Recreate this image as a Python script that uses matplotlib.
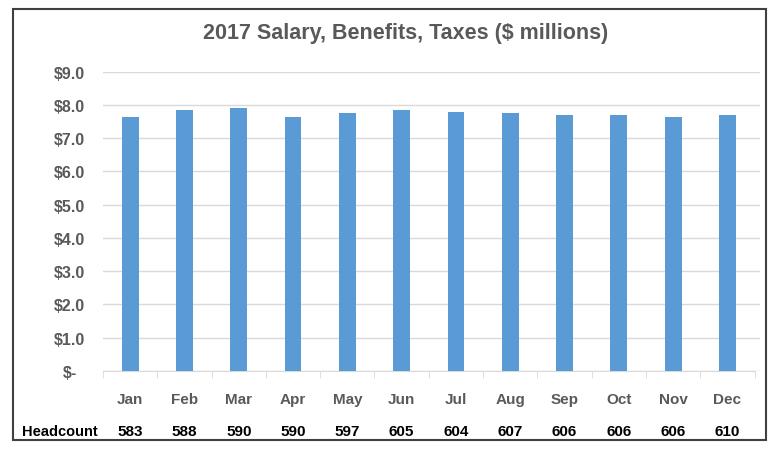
import matplotlib.pyplot as plt
import matplotlib.transforms as mtransforms
from matplotlib.patches import Rectangle
import numpy as np

months = ["Jan", "Feb", "Mar", "Apr", "May", "Jun",
          "Jul", "Aug", "Sep", "Oct", "Nov", "Dec"]
cost = [7.65, 7.86, 7.90, 7.65, 7.76, 7.86,
        7.79, 7.76, 7.71, 7.71, 7.65, 7.71]
headcount = [583, 588, 590, 590, 597, 605, 604, 607, 606, 606, 606, 610]
yticks = np.arange(0, 10, 1.0)

plt.rcParams['font.family'] = ['Liberation Sans', 'DejaVu Sans']

fig = plt.figure(figsize=(7.7, 4.52), dpi=100)
ax = fig.add_axes([103 / 770, 1 - 372 / 452, (760 - 103) / 770, (372 - 72.7) / 452])

x = np.arange(len(months))
ax.bar(x, cost, width=0.31, color="#5B9BD5", zorder=3)

ax.set_xlim(-0.46, 11.6)
ax.set_ylim(0, 9.0)
ax.set_yticks(yticks)
ax.set_yticklabels(["$-"] + ["${:.1f}".format(v) for v in yticks[1:]])
ax.yaxis.grid(True, color="#D9D9D9", linewidth=1.0, zorder=0)
ax.tick_params(axis="y", length=0, pad=24, labelsize=11.5, labelcolor="#595959")
for lab in ax.get_yticklabels():
    lab.set_fontweight("bold")
    lab.set_horizontalalignment("center")

ax.set_xticks(x)
ax.set_xticklabels(months, fontsize=11, fontweight="bold", color="#595959")
ax.set_xticks(np.arange(-0.5, 12, 1), minor=True)
ax.tick_params(axis="x", which="major", length=0, pad=15)
ax.tick_params(axis="x", which="minor", length=5, color="#D9D9D9", direction="out")

for s in ["top", "right", "left"]:
    ax.spines[s].set_visible(False)
ax.spines["bottom"].set_color("#D9D9D9")
ax.spines["bottom"].set_bounds(-0.5, 11.5)

fig.text(406 / 770, 1 - 33 / 452, "2017 Salary, Benefits, Taxes ($ millions)",
         ha="center", va="center", fontsize=15.5, fontweight="bold", color="#595959")

# headcount row under the month labels
trans = mtransforms.blended_transform_factory(ax.transData, fig.transFigure)
fig.text(22 / 770, 1 - 432 / 452, "Headcount", ha="left", va="center",
         fontsize=10.5, fontweight="bold", color="black")
for xi, h in zip(x, headcount):
    ax.text(xi, 1 - 432 / 452, str(h), transform=trans, ha="center", va="center",
            fontsize=11, fontweight="bold", color="black")

# frame around the whole chart
fig.patches.append(Rectangle((13 / 770, 1 - 441 / 452), (766 - 13) / 770, (441 - 10) / 452,
                             transform=fig.transFigure, fill=False,
                             edgecolor="#404040", linewidth=1.5))

fig.savefig("out.png", dpi=100)
